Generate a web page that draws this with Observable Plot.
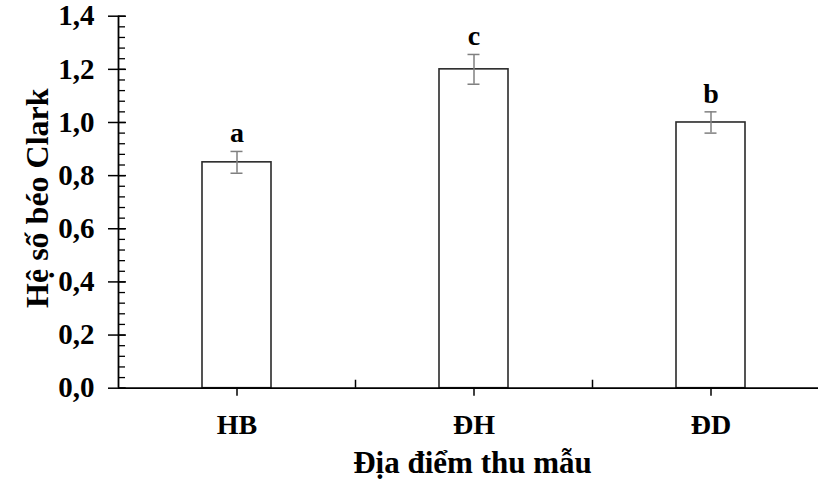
<!DOCTYPE html>
<html><head><meta charset="utf-8">
<script src="https://cdn.jsdelivr.net/npm/d3@7"></script>
<script src="https://cdn.jsdelivr.net/npm/@observablehq/plot@0.6"></script>
<style>body{margin:0;background:#fff}</style>
</head><body><div id="chart"></div>
<script>
const sites = ["HB", "ĐH", "ĐD"];
const means = [0.85, 1.20, 1.00];
const errors = [0.041, 0.056, 0.040];
const letters = ["a", "c", "b"];
const yTicks = [0, 0.2, 0.4, 0.6, 0.8, 1.0, 1.2, 1.4];
const yMinorTicks = d3.range(0, 36).map(i => +(i * 0.04).toFixed(2));
const boundaries = ["HB", "ĐH"];
const xTitle = "Địa điểm thu mẫu";
const yTitle = "Hệ số béo Clark";

const data = sites.map((s, i) => ({site: s, mean: means[i], err: errors[i], letter: letters[i],
  lo: means[i] - errors[i], hi: means[i] + errors[i]}));

const W = 818, H = 488;
const x0 = 118, x1 = 829, yBot = 387.7, yTop = 15.7;
const step = (x1 - x0) / 3;
const font = "'Liberation Serif', 'Times New Roman', serif";

const chart = Plot.plot({
  width: W, height: H,
  marginLeft: x0, marginRight: 0, marginTop: yTop, marginBottom: H - yBot,
  style: {fontFamily: font, fontSize: "28px", fontWeight: "bold", background: "#fff", color: "#000", overflow: "visible"},
  x: {domain: sites, range: [x0, x1], paddingInner: 0.71, paddingOuter: 0.355, align: 0.5},
  y: {domain: [0, 1.4], range: [yBot, yTop]},
  marks: [
    Plot.barY(data, {x: "site", y: "mean", fill: "white", stroke: "#2a2a2a", strokeWidth: 1.6}),
    Plot.ruleX(data, {x: "site", y1: "lo", y2: "hi", stroke: "#808080", strokeWidth: 1.5}),
    Plot.tickY(data, {x: "site", y: "lo", stroke: "#808080", strokeWidth: 1.5, insetLeft: 28.5, insetRight: 28.5}),
    Plot.tickY(data, {x: "site", y: "hi", stroke: "#808080", strokeWidth: 1.5, insetLeft: 28.5, insetRight: 28.5}),
    Plot.text(data, {x: "site", y: "hi", text: "letter", dy: -9, lineAnchor: "bottom", fontSize: 28, fontWeight: "bold", fill: "#000"}),
    Plot.axisY({ticks: yMinorTicks, tickSize: 7, dx: 7, text: null, strokeWidth: 1.3}),
    Plot.axisY({ticks: yTicks, tickSize: 8, dx: 8, text: null, strokeWidth: 1.5}),
    Plot.axisY({ticks: yTicks, tickSize: 10, tickPadding: 14, strokeWidth: 1.5, fontSize: 29,
      tickFormat: d => d.toFixed(1).replace(".", ","), label: null}),
    Plot.ruleX([sites[0]], {x: d => d, dx: -step / 2, y1: 0, y2: 1.4, stroke: "#000", strokeWidth: 1.8}),
    Plot.ruleY([0], {stroke: "#000", strokeWidth: 1.8}),
    Plot.axisX({tickSize: 8, tickPadding: 18, strokeWidth: 1.5, fontSize: 28, label: null}),
    Plot.ruleX(boundaries, {x: d => d, dx: step / 2, y1: 0, y2: 0.03, stroke: "#000", strokeWidth: 1.5}),
    Plot.text([xTitle], {frameAnchor: "bottom", text: d => d, dy: 85, dx: 4, fontSize: 31, fontWeight: "bold", fill: "#000"}),
    Plot.text([yTitle], {frameAnchor: "left", textAnchor: "middle", text: d => d, rotate: -90, dx: -81, dy: -4, fontSize: 32, fontWeight: "bold", fill: "#000"})
  ]
});
document.getElementById("chart").append(chart);
</script>
</body></html>
